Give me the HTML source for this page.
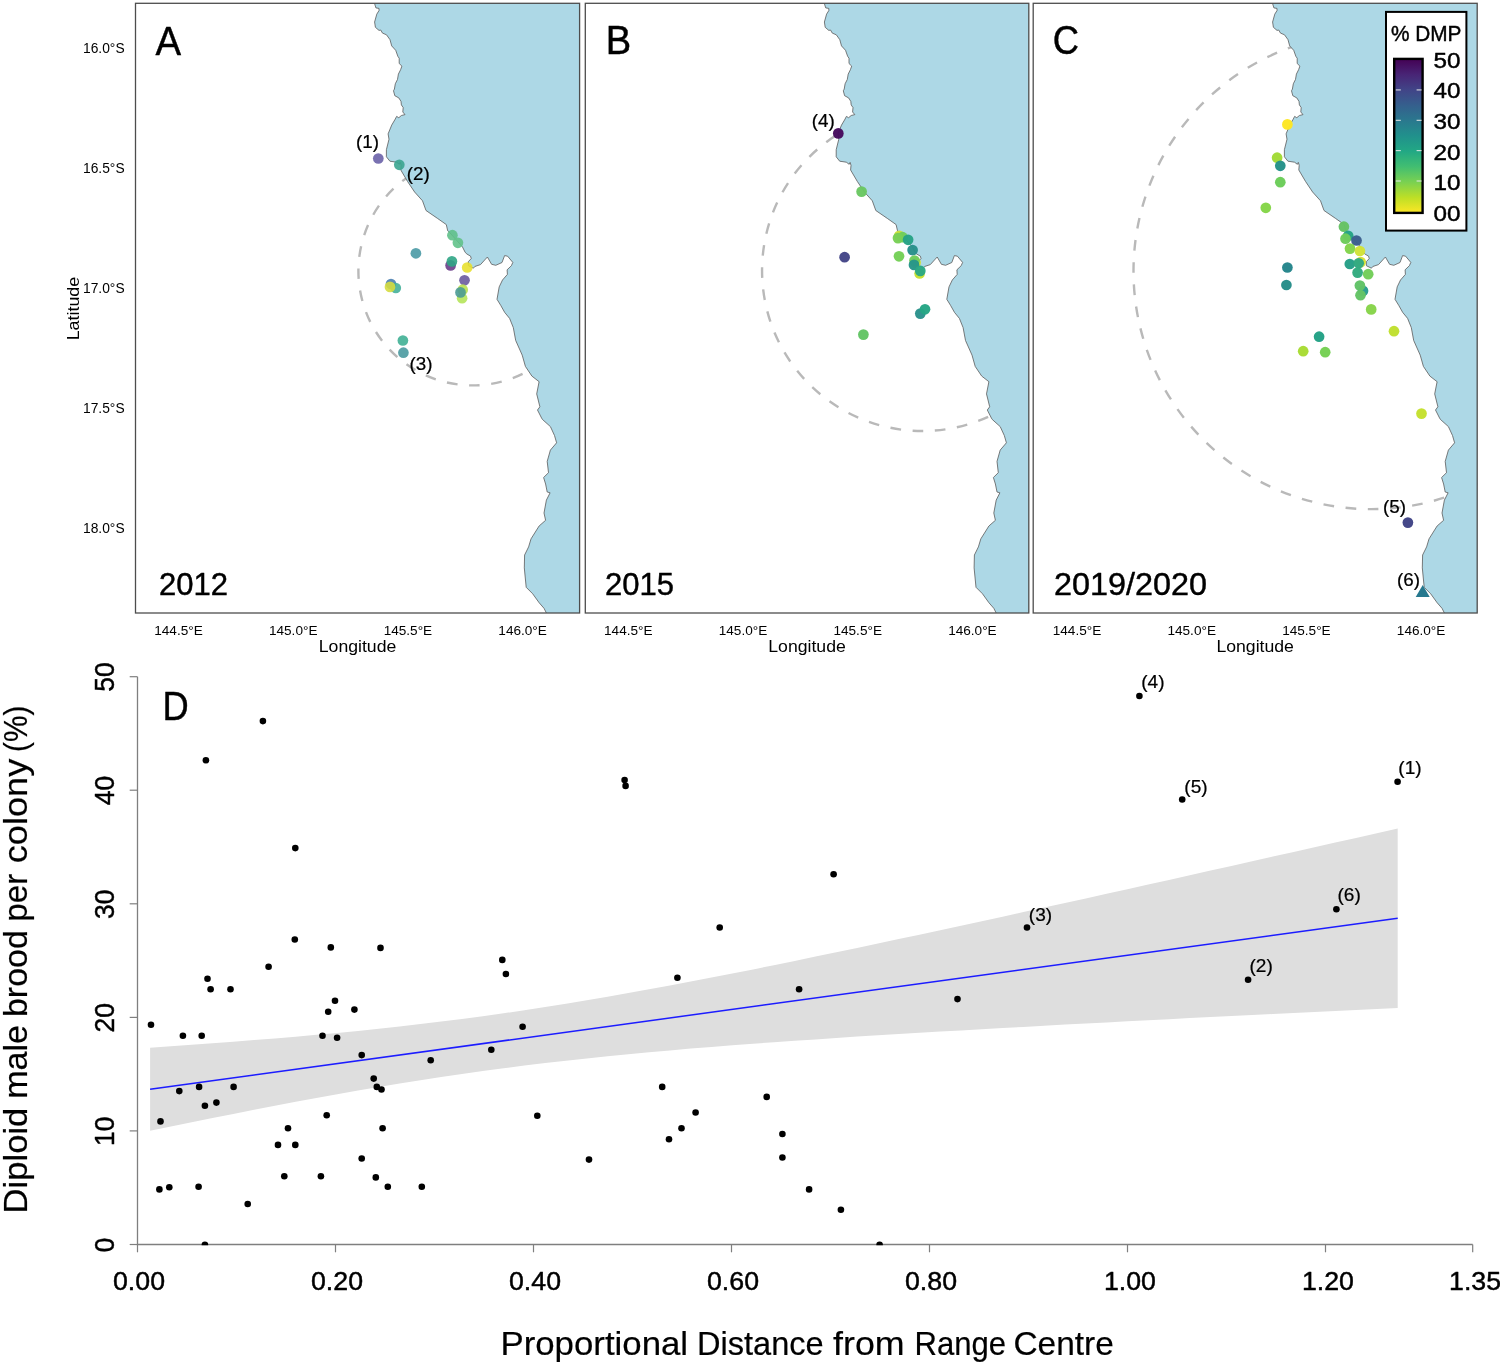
<!DOCTYPE html>
<html><head><meta charset="utf-8"><title>Figure</title>
<style>html,body{margin:0;padding:0;background:#fff}body{width:1500px;height:1362px;overflow:hidden;font-family:"Liberation Sans",sans-serif}svg{display:block;will-change:transform}text{font-family:"Liberation Sans",sans-serif;fill:#000}text.b{stroke:#000;stroke-width:0.45px;stroke-linejoin:round}text.s{stroke:#000;stroke-width:0.22px}text.t{stroke:#000;stroke-width:0.2px}</style></head><body>
<svg width="1500" height="1362" viewBox="0 0 1500 1362">
<defs>
<linearGradient id="vir" x1="0" y1="0" x2="0" y2="1">
<stop offset="0%" stop-color="#440154"/>
<stop offset="10%" stop-color="#482475"/>
<stop offset="20%" stop-color="#414487"/>
<stop offset="30%" stop-color="#355f8d"/>
<stop offset="40%" stop-color="#2a788e"/>
<stop offset="50%" stop-color="#21918c"/>
<stop offset="60%" stop-color="#22a884"/>
<stop offset="70%" stop-color="#42be71"/>
<stop offset="80%" stop-color="#7ad151"/>
<stop offset="90%" stop-color="#bddf26"/>
<stop offset="100%" stop-color="#fde725"/>
</linearGradient>
<clipPath id="cp0"><rect x="135.5" y="3.3" width="444.1" height="609.7"/></clipPath>
<clipPath id="cp1"><rect x="585.3" y="3.3" width="443.5" height="609.7"/></clipPath>
<clipPath id="cp2"><rect x="1033.2" y="3.3" width="444.0" height="609.7"/></clipPath>
</defs>
<rect width="1500" height="1362" fill="#fff"/>
<g clip-path="url(#cp0)">
<path d="M587.0,271.1 A114.3,114.3 0 1 1 358.4,271.1 A114.3,114.3 0 1 1 587.0,271.1" fill="none" stroke="#b9b9b9" stroke-width="2.4" stroke-dasharray="10.7 11.6" stroke-dashoffset="6.05"/>
<path d="M374.5,3.3 L375.9,7.9 L379.0,8.4 L379.0,10.6 L376.8,14.1 L374.6,22.0 L375.4,27.3 L379.0,30.4 L380.7,30.0 L382.5,33.1 L386.5,34.8 L390.0,39.7 L391.7,45.9 L395.7,50.3 L397.9,56.4 L399.2,58.2 L399.2,63.5 L401.9,66.1 L400.6,69.7 L398.4,74.1 L397.5,79.4 L395.3,83.8 L394.4,89.1 L393.5,90.8 L394.8,95.7 L398.8,97.9 L401.0,101.4 L401.4,104.9 L403.2,107.6 L402.8,112.0 L405.0,114.6 L401.4,115.5 L398.8,117.7 L396.6,116.4 L395.3,119.0 L391.7,125.1 L388.1,133.9 L389.0,139.2 L386.4,149.7 L386.4,156.8 L389.9,161.2 L396.5,162.2 L399.4,164.3 L400.3,162.4 L401.2,165.3 L400.8,170.0 L407.5,181.4 L414.6,192.0 L422.5,200.8 L426.0,210.5 L437.5,218.4 L446.3,224.6 L447.7,230.8 L448.7,231.5 L462.4,246.8 L465.2,252.4 L466.9,254.0 L470.6,256.2 L471.2,258.6 L468.3,261.7 L468.4,265.7 L473.4,268.2 L474.8,266.5 L480.5,264.6 L487.4,257.0 L491.6,264.3 L495.8,265.3 L502.0,262.5 L504.6,255.6 L507.6,256.2 L512.8,262.4 L511.4,265.7 L507.1,269.8 L507.4,274.4 L502.5,280.0 L499.2,286.9 L497.0,299.3 L500.7,305.3 L504.7,312.4 L509.6,318.4 L513.3,327.6 L515.7,340.5 L522.2,355.1 L525.4,366.4 L531.9,376.1 L539.1,381.7 L536.7,393.9 L539.9,406.8 L537.5,410.0 L541.6,418.1 L542.4,419.4 L550.4,426.6 L554.5,435.5 L556.6,442.8 L550.4,450.1 L547.2,461.4 L548.5,472.7 L543.6,477.5 L545.6,484.0 L547.2,492.0 L550.1,492.8 L546.4,500.1 L544.0,513.0 L545.6,520.3 L539.1,526.0 L531.0,538.9 L528.6,546.9 L524.6,555.0 L524.3,567.9 L526.2,587.3 L532.7,593.8 L539.1,602.7 L544.0,608.3 L546.4,613.0 L579.5,613 L579.5,3.3 Z" transform="translate(0,0)" fill="#add8e6"/>
<path d="M374.5,3.3 L375.9,7.9 L379.0,8.4 L379.0,10.6 L376.8,14.1 L374.6,22.0 L375.4,27.3 L379.0,30.4 L380.7,30.0 L382.5,33.1 L386.5,34.8 L390.0,39.7 L391.7,45.9 L395.7,50.3 L397.9,56.4 L399.2,58.2 L399.2,63.5 L401.9,66.1 L400.6,69.7 L398.4,74.1 L397.5,79.4 L395.3,83.8 L394.4,89.1 L393.5,90.8 L394.8,95.7 L398.8,97.9 L401.0,101.4 L401.4,104.9 L403.2,107.6 L402.8,112.0 L405.0,114.6 L401.4,115.5 L398.8,117.7 L396.6,116.4 L395.3,119.0 L391.7,125.1 L388.1,133.9 L389.0,139.2 L386.4,149.7 L386.4,156.8 L389.9,161.2 L396.5,162.2 L399.4,164.3 L400.3,162.4 L401.2,165.3 L400.8,170.0 L407.5,181.4 L414.6,192.0 L422.5,200.8 L426.0,210.5 L437.5,218.4 L446.3,224.6 L447.7,230.8 L448.7,231.5 L462.4,246.8 L465.2,252.4 L466.9,254.0 L470.6,256.2 L471.2,258.6 L468.3,261.7 L468.4,265.7 L473.4,268.2 L474.8,266.5 L480.5,264.6 L487.4,257.0 L491.6,264.3 L495.8,265.3 L502.0,262.5 L504.6,255.6 L507.6,256.2 L512.8,262.4 L511.4,265.7 L507.1,269.8 L507.4,274.4 L502.5,280.0 L499.2,286.9 L497.0,299.3 L500.7,305.3 L504.7,312.4 L509.6,318.4 L513.3,327.6 L515.7,340.5 L522.2,355.1 L525.4,366.4 L531.9,376.1 L539.1,381.7 L536.7,393.9 L539.9,406.8 L537.5,410.0 L541.6,418.1 L542.4,419.4 L550.4,426.6 L554.5,435.5 L556.6,442.8 L550.4,450.1 L547.2,461.4 L548.5,472.7 L543.6,477.5 L545.6,484.0 L547.2,492.0 L550.1,492.8 L546.4,500.1 L544.0,513.0 L545.6,520.3 L539.1,526.0 L531.0,538.9 L528.6,546.9 L524.6,555.0 L524.3,567.9 L526.2,587.3 L532.7,593.8 L539.1,602.7 L544.0,608.3 L546.4,613.0" transform="translate(0,0)" fill="none" stroke="#5a5a5a" stroke-width="0.8"/>
</g>
<rect x="135.5" y="3.3" width="444.1" height="609.7" fill="none" stroke="#4d4d4d" stroke-width="1.3"/>
<g clip-path="url(#cp1)">
<path d="M1082.8500000000001,270.6 A160.4,160.4 0 1 1 762.0500000000001,270.6 A160.4,160.4 0 1 1 1082.8500000000001,270.6" fill="none" stroke="#b9b9b9" stroke-width="2.4" stroke-dasharray="10.7 11.6" stroke-dashoffset="16.55"/>
<path d="M374.5,3.3 L375.9,7.9 L379.0,8.4 L379.0,10.6 L376.8,14.1 L374.6,22.0 L375.4,27.3 L379.0,30.4 L380.7,30.0 L382.5,33.1 L386.5,34.8 L390.0,39.7 L391.7,45.9 L395.7,50.3 L397.9,56.4 L399.2,58.2 L399.2,63.5 L401.9,66.1 L400.6,69.7 L398.4,74.1 L397.5,79.4 L395.3,83.8 L394.4,89.1 L393.5,90.8 L394.8,95.7 L398.8,97.9 L401.0,101.4 L401.4,104.9 L403.2,107.6 L402.8,112.0 L405.0,114.6 L401.4,115.5 L398.8,117.7 L396.6,116.4 L395.3,119.0 L391.7,125.1 L388.1,133.9 L389.0,139.2 L386.4,149.7 L386.4,156.8 L389.9,161.2 L396.5,162.2 L399.4,164.3 L400.3,162.4 L401.2,165.3 L400.8,170.0 L407.5,181.4 L414.6,192.0 L422.5,200.8 L426.0,210.5 L437.5,218.4 L446.3,224.6 L447.7,230.8 L448.7,231.5 L462.4,246.8 L465.2,252.4 L466.9,254.0 L470.6,256.2 L471.2,258.6 L468.3,261.7 L468.4,265.7 L473.4,268.2 L474.8,266.5 L480.5,264.6 L487.4,257.0 L491.6,264.3 L495.8,265.3 L502.0,262.5 L504.6,255.6 L507.6,256.2 L512.8,262.4 L511.4,265.7 L507.1,269.8 L507.4,274.4 L502.5,280.0 L499.2,286.9 L497.0,299.3 L500.7,305.3 L504.7,312.4 L509.6,318.4 L513.3,327.6 L515.7,340.5 L522.2,355.1 L525.4,366.4 L531.9,376.1 L539.1,381.7 L536.7,393.9 L539.9,406.8 L537.5,410.0 L541.6,418.1 L542.4,419.4 L550.4,426.6 L554.5,435.5 L556.6,442.8 L550.4,450.1 L547.2,461.4 L548.5,472.7 L543.6,477.5 L545.6,484.0 L547.2,492.0 L550.1,492.8 L546.4,500.1 L544.0,513.0 L545.6,520.3 L539.1,526.0 L531.0,538.9 L528.6,546.9 L524.6,555.0 L524.3,567.9 L526.2,587.3 L532.7,593.8 L539.1,602.7 L544.0,608.3 L546.4,613.0 L579.5,613 L579.5,3.3 Z" transform="translate(449.8,0)" fill="#add8e6"/>
<path d="M374.5,3.3 L375.9,7.9 L379.0,8.4 L379.0,10.6 L376.8,14.1 L374.6,22.0 L375.4,27.3 L379.0,30.4 L380.7,30.0 L382.5,33.1 L386.5,34.8 L390.0,39.7 L391.7,45.9 L395.7,50.3 L397.9,56.4 L399.2,58.2 L399.2,63.5 L401.9,66.1 L400.6,69.7 L398.4,74.1 L397.5,79.4 L395.3,83.8 L394.4,89.1 L393.5,90.8 L394.8,95.7 L398.8,97.9 L401.0,101.4 L401.4,104.9 L403.2,107.6 L402.8,112.0 L405.0,114.6 L401.4,115.5 L398.8,117.7 L396.6,116.4 L395.3,119.0 L391.7,125.1 L388.1,133.9 L389.0,139.2 L386.4,149.7 L386.4,156.8 L389.9,161.2 L396.5,162.2 L399.4,164.3 L400.3,162.4 L401.2,165.3 L400.8,170.0 L407.5,181.4 L414.6,192.0 L422.5,200.8 L426.0,210.5 L437.5,218.4 L446.3,224.6 L447.7,230.8 L448.7,231.5 L462.4,246.8 L465.2,252.4 L466.9,254.0 L470.6,256.2 L471.2,258.6 L468.3,261.7 L468.4,265.7 L473.4,268.2 L474.8,266.5 L480.5,264.6 L487.4,257.0 L491.6,264.3 L495.8,265.3 L502.0,262.5 L504.6,255.6 L507.6,256.2 L512.8,262.4 L511.4,265.7 L507.1,269.8 L507.4,274.4 L502.5,280.0 L499.2,286.9 L497.0,299.3 L500.7,305.3 L504.7,312.4 L509.6,318.4 L513.3,327.6 L515.7,340.5 L522.2,355.1 L525.4,366.4 L531.9,376.1 L539.1,381.7 L536.7,393.9 L539.9,406.8 L537.5,410.0 L541.6,418.1 L542.4,419.4 L550.4,426.6 L554.5,435.5 L556.6,442.8 L550.4,450.1 L547.2,461.4 L548.5,472.7 L543.6,477.5 L545.6,484.0 L547.2,492.0 L550.1,492.8 L546.4,500.1 L544.0,513.0 L545.6,520.3 L539.1,526.0 L531.0,538.9 L528.6,546.9 L524.6,555.0 L524.3,567.9 L526.2,587.3 L532.7,593.8 L539.1,602.7 L544.0,608.3 L546.4,613.0" transform="translate(449.8,0)" fill="none" stroke="#5a5a5a" stroke-width="0.8"/>
</g>
<rect x="585.3" y="3.3" width="443.5" height="609.7" fill="none" stroke="#4d4d4d" stroke-width="1.3"/>
<g clip-path="url(#cp2)">
<path d="M1609.1,271.2 A237.8,237.8 0 1 1 1133.5,271.2 A237.8,237.8 0 1 1 1609.1,271.2" fill="none" stroke="#b9b9b9" stroke-width="2.4" stroke-dasharray="10.7 11.6" stroke-dashoffset="12.72"/>
<path d="M374.5,3.3 L375.9,7.9 L379.0,8.4 L379.0,10.6 L376.8,14.1 L374.6,22.0 L375.4,27.3 L379.0,30.4 L380.7,30.0 L382.5,33.1 L386.5,34.8 L390.0,39.7 L391.7,45.9 L395.7,50.3 L397.9,56.4 L399.2,58.2 L399.2,63.5 L401.9,66.1 L400.6,69.7 L398.4,74.1 L397.5,79.4 L395.3,83.8 L394.4,89.1 L393.5,90.8 L394.8,95.7 L398.8,97.9 L401.0,101.4 L401.4,104.9 L403.2,107.6 L402.8,112.0 L405.0,114.6 L401.4,115.5 L398.8,117.7 L396.6,116.4 L395.3,119.0 L391.7,125.1 L388.1,133.9 L389.0,139.2 L386.4,149.7 L386.4,156.8 L389.9,161.2 L396.5,162.2 L399.4,164.3 L400.3,162.4 L401.2,165.3 L400.8,170.0 L407.5,181.4 L414.6,192.0 L422.5,200.8 L426.0,210.5 L437.5,218.4 L446.3,224.6 L447.7,230.8 L448.7,231.5 L462.4,246.8 L465.2,252.4 L466.9,254.0 L470.6,256.2 L471.2,258.6 L468.3,261.7 L468.4,265.7 L473.4,268.2 L474.8,266.5 L480.5,264.6 L487.4,257.0 L491.6,264.3 L495.8,265.3 L502.0,262.5 L504.6,255.6 L507.6,256.2 L512.8,262.4 L511.4,265.7 L507.1,269.8 L507.4,274.4 L502.5,280.0 L499.2,286.9 L497.0,299.3 L500.7,305.3 L504.7,312.4 L509.6,318.4 L513.3,327.6 L515.7,340.5 L522.2,355.1 L525.4,366.4 L531.9,376.1 L539.1,381.7 L536.7,393.9 L539.9,406.8 L537.5,410.0 L541.6,418.1 L542.4,419.4 L550.4,426.6 L554.5,435.5 L556.6,442.8 L550.4,450.1 L547.2,461.4 L548.5,472.7 L543.6,477.5 L545.6,484.0 L547.2,492.0 L550.1,492.8 L546.4,500.1 L544.0,513.0 L545.6,520.3 L539.1,526.0 L531.0,538.9 L528.6,546.9 L524.6,555.0 L524.3,567.9 L526.2,587.3 L532.7,593.8 L539.1,602.7 L544.0,608.3 L546.4,613.0 L579.5,613 L579.5,3.3 Z" transform="translate(898.0,0)" fill="#add8e6"/>
<path d="M374.5,3.3 L375.9,7.9 L379.0,8.4 L379.0,10.6 L376.8,14.1 L374.6,22.0 L375.4,27.3 L379.0,30.4 L380.7,30.0 L382.5,33.1 L386.5,34.8 L390.0,39.7 L391.7,45.9 L395.7,50.3 L397.9,56.4 L399.2,58.2 L399.2,63.5 L401.9,66.1 L400.6,69.7 L398.4,74.1 L397.5,79.4 L395.3,83.8 L394.4,89.1 L393.5,90.8 L394.8,95.7 L398.8,97.9 L401.0,101.4 L401.4,104.9 L403.2,107.6 L402.8,112.0 L405.0,114.6 L401.4,115.5 L398.8,117.7 L396.6,116.4 L395.3,119.0 L391.7,125.1 L388.1,133.9 L389.0,139.2 L386.4,149.7 L386.4,156.8 L389.9,161.2 L396.5,162.2 L399.4,164.3 L400.3,162.4 L401.2,165.3 L400.8,170.0 L407.5,181.4 L414.6,192.0 L422.5,200.8 L426.0,210.5 L437.5,218.4 L446.3,224.6 L447.7,230.8 L448.7,231.5 L462.4,246.8 L465.2,252.4 L466.9,254.0 L470.6,256.2 L471.2,258.6 L468.3,261.7 L468.4,265.7 L473.4,268.2 L474.8,266.5 L480.5,264.6 L487.4,257.0 L491.6,264.3 L495.8,265.3 L502.0,262.5 L504.6,255.6 L507.6,256.2 L512.8,262.4 L511.4,265.7 L507.1,269.8 L507.4,274.4 L502.5,280.0 L499.2,286.9 L497.0,299.3 L500.7,305.3 L504.7,312.4 L509.6,318.4 L513.3,327.6 L515.7,340.5 L522.2,355.1 L525.4,366.4 L531.9,376.1 L539.1,381.7 L536.7,393.9 L539.9,406.8 L537.5,410.0 L541.6,418.1 L542.4,419.4 L550.4,426.6 L554.5,435.5 L556.6,442.8 L550.4,450.1 L547.2,461.4 L548.5,472.7 L543.6,477.5 L545.6,484.0 L547.2,492.0 L550.1,492.8 L546.4,500.1 L544.0,513.0 L545.6,520.3 L539.1,526.0 L531.0,538.9 L528.6,546.9 L524.6,555.0 L524.3,567.9 L526.2,587.3 L532.7,593.8 L539.1,602.7 L544.0,608.3 L546.4,613.0" transform="translate(898.0,0)" fill="none" stroke="#5a5a5a" stroke-width="0.8"/>
</g>
<rect x="1033.2" y="3.3" width="444.0" height="609.7" fill="none" stroke="#4d4d4d" stroke-width="1.3"/>
<circle cx="415.9" cy="253.3" r="5.35" fill="#4a9aa5" fill-opacity="0.9"/>
<circle cx="452.4" cy="235.2" r="5.35" fill="#5fc08a" fill-opacity="0.9"/>
<circle cx="457.9" cy="242.8" r="5.35" fill="#62c28a" fill-opacity="0.9"/>
<circle cx="450.6" cy="265.4" r="5.35" fill="#6a3d8a" fill-opacity="0.9"/>
<circle cx="451.9" cy="261.4" r="5.35" fill="#2fa585" fill-opacity="0.9"/>
<circle cx="467.2" cy="267.5" r="5.35" fill="#e8e030" fill-opacity="0.9"/>
<circle cx="464.5" cy="280.3" r="5.35" fill="#6a5a9e" fill-opacity="0.9"/>
<circle cx="462.7" cy="289.7" r="5.35" fill="#b8e050" fill-opacity="0.9"/>
<circle cx="462.1" cy="298.2" r="5.35" fill="#b5e45a" fill-opacity="0.9"/>
<circle cx="460.5" cy="292.4" r="5.35" fill="#4a9a95" fill-opacity="0.9"/>
<circle cx="391" cy="284" r="5.35" fill="#4a80b0" fill-opacity="0.9"/>
<circle cx="395.8" cy="288" r="5.35" fill="#45b09a" fill-opacity="0.9"/>
<circle cx="390" cy="286.9" r="5.35" fill="#d5dc40" fill-opacity="0.9"/>
<circle cx="402.9" cy="340.5" r="5.35" fill="#40b095" fill-opacity="0.9"/>
<circle cx="403.4" cy="352.7" r="5.35" fill="#4a9aa0" fill-opacity="0.9"/>
<circle cx="378.3" cy="158.5" r="5.35" fill="#6a62a8" fill-opacity="0.9"/>
<circle cx="399.3" cy="164.8" r="5.35" fill="#3aa590" fill-opacity="0.9"/>
<circle cx="838.3" cy="133.4" r="5.35" fill="#460a5d" fill-opacity="0.97"/>
<circle cx="861.6" cy="191.6" r="5.35" fill="#6ac762" fill-opacity="0.97"/>
<circle cx="899.2" cy="235.8" r="5.35" fill="#c8e038" fill-opacity="0.97"/>
<circle cx="902.6" cy="237.2" r="5.35" fill="#6fcc5c" fill-opacity="0.97"/>
<circle cx="898.0" cy="238.1" r="5.35" fill="#78d056" fill-opacity="0.97"/>
<circle cx="908.1" cy="239.8" r="5.35" fill="#26a285" fill-opacity="0.97"/>
<circle cx="912.6" cy="250.1" r="5.35" fill="#27908a" fill-opacity="0.97"/>
<circle cx="899.0" cy="256.3" r="5.35" fill="#74cf56" fill-opacity="0.97"/>
<circle cx="915.6" cy="262.6" r="5.35" fill="#d0e038" fill-opacity="0.97"/>
<circle cx="914.5" cy="260.6" r="5.35" fill="#6fcc5c" fill-opacity="0.97"/>
<circle cx="919.6" cy="273.5" r="5.35" fill="#c5e030" fill-opacity="0.97"/>
<circle cx="914.0" cy="264.9" r="5.35" fill="#279689" fill-opacity="0.97"/>
<circle cx="920.3" cy="270.9" r="5.35" fill="#2aa884" fill-opacity="0.97"/>
<circle cx="844.6" cy="257.2" r="5.35" fill="#434587" fill-opacity="0.97"/>
<circle cx="920.3" cy="313.6" r="5.35" fill="#2a918b" fill-opacity="0.97"/>
<circle cx="925.0" cy="309.3" r="5.35" fill="#25a584" fill-opacity="0.97"/>
<circle cx="863.4" cy="334.6" r="5.35" fill="#62c464" fill-opacity="0.97"/>
<circle cx="1287.4" cy="124.4" r="5.35" fill="#fde725" fill-opacity="0.98"/>
<circle cx="1277.1" cy="157.7" r="5.35" fill="#a2da37" fill-opacity="0.98"/>
<circle cx="1280.3" cy="165.8" r="5.35" fill="#26928a" fill-opacity="0.98"/>
<circle cx="1280.3" cy="182.2" r="5.35" fill="#6ccd5a" fill-opacity="0.98"/>
<circle cx="1265.8" cy="207.8" r="5.35" fill="#86d549" fill-opacity="0.98"/>
<circle cx="1343.9" cy="226.7" r="5.35" fill="#66c265" fill-opacity="0.98"/>
<circle cx="1348.2" cy="235.8" r="5.35" fill="#26a285" fill-opacity="0.98"/>
<circle cx="1345.5" cy="238.7" r="5.35" fill="#6fcc5c" fill-opacity="0.98"/>
<circle cx="1356.5" cy="240.5" r="5.35" fill="#3c5f8e" fill-opacity="0.98"/>
<circle cx="1350" cy="248.6" r="5.35" fill="#84d44c" fill-opacity="0.98"/>
<circle cx="1359.9" cy="251" r="5.35" fill="#d2e23a" fill-opacity="0.98"/>
<circle cx="1360.7" cy="262.1" r="5.35" fill="#d5e038" fill-opacity="0.98"/>
<circle cx="1349.8" cy="264" r="5.35" fill="#279f88" fill-opacity="0.98"/>
<circle cx="1358.7" cy="263.3" r="5.35" fill="#31a982" fill-opacity="0.98"/>
<circle cx="1357.6" cy="272.6" r="5.35" fill="#33ab80" fill-opacity="0.98"/>
<circle cx="1368.2" cy="274.2" r="5.35" fill="#73ce5a" fill-opacity="0.98"/>
<circle cx="1363.0" cy="290.9" r="5.35" fill="#2a9d90" fill-opacity="0.98"/>
<circle cx="1359.9" cy="285.5" r="5.35" fill="#62c368" fill-opacity="0.98"/>
<circle cx="1360.5" cy="295.2" r="5.35" fill="#64c466" fill-opacity="0.98"/>
<circle cx="1371.2" cy="309.4" r="5.35" fill="#88d44b" fill-opacity="0.98"/>
<circle cx="1287.4" cy="267.5" r="5.35" fill="#26868c" fill-opacity="0.98"/>
<circle cx="1286.4" cy="285" r="5.35" fill="#278e8a" fill-opacity="0.98"/>
<circle cx="1319.1" cy="336.7" r="5.35" fill="#24a186" fill-opacity="0.98"/>
<circle cx="1303.2" cy="351.2" r="5.35" fill="#a8db34" fill-opacity="0.98"/>
<circle cx="1325.2" cy="352.2" r="5.35" fill="#75d054" fill-opacity="0.98"/>
<circle cx="1394" cy="331.2" r="5.35" fill="#c0df30" fill-opacity="0.98"/>
<circle cx="1421.5" cy="413.6" r="5.35" fill="#c5e030" fill-opacity="0.98"/>
<circle cx="1407.9" cy="522.6" r="5.35" fill="#414487" fill-opacity="0.98"/>
<path d="M1422.7,585.0 L1429.7,596.9 L1415.7,596.9 Z" fill="#26788e"/>
<text x="124.6" y="53.2" font-size="13.8" text-anchor="end" fill="#222">16.0°S</text>
<text x="124.6" y="173.10000000000002" font-size="13.8" text-anchor="end" fill="#222">16.5°S</text>
<text x="124.6" y="293.0" font-size="13.8" text-anchor="end" fill="#222">17.0°S</text>
<text x="124.6" y="412.90000000000003" font-size="13.8" text-anchor="end" fill="#222">17.5°S</text>
<text x="124.6" y="532.8000000000001" font-size="13.8" text-anchor="end" fill="#222">18.0°S</text>
<text x="178.5" y="635.4" font-size="13.6" text-anchor="middle" fill="#222">144.5°E</text>
<text x="293.2" y="635.4" font-size="13.6" text-anchor="middle" fill="#222">145.0°E</text>
<text x="407.9" y="635.4" font-size="13.6" text-anchor="middle" fill="#222">145.5°E</text>
<text x="522.6" y="635.4" font-size="13.6" text-anchor="middle" fill="#222">146.0°E</text>
<text x="628.3" y="635.4" font-size="13.6" text-anchor="middle" fill="#222">144.5°E</text>
<text x="743.0" y="635.4" font-size="13.6" text-anchor="middle" fill="#222">145.0°E</text>
<text x="857.6999999999999" y="635.4" font-size="13.6" text-anchor="middle" fill="#222">145.5°E</text>
<text x="972.4" y="635.4" font-size="13.6" text-anchor="middle" fill="#222">146.0°E</text>
<text x="1077.0" y="635.4" font-size="13.6" text-anchor="middle" fill="#222">144.5°E</text>
<text x="1191.7" y="635.4" font-size="13.6" text-anchor="middle" fill="#222">145.0°E</text>
<text x="1306.4" y="635.4" font-size="13.6" text-anchor="middle" fill="#222">145.5°E</text>
<text x="1421.1" y="635.4" font-size="13.6" text-anchor="middle" fill="#222">146.0°E</text>
<text x="357.55" y="651.6" font-size="17" text-anchor="middle" textLength="77.5" lengthAdjust="spacingAndGlyphs" fill="#222">Longitude</text>
<text x="807.05" y="651.6" font-size="17" text-anchor="middle" textLength="77.5" lengthAdjust="spacingAndGlyphs" fill="#222">Longitude</text>
<text x="1255.2" y="651.6" font-size="17" text-anchor="middle" textLength="77.5" lengthAdjust="spacingAndGlyphs" fill="#222">Longitude</text>
<text transform="translate(79.4,308.6) rotate(-90)" font-size="17" text-anchor="middle" textLength="63.5" lengthAdjust="spacingAndGlyphs" fill="#222">Latitude</text>
<text x="155.6" y="54.6" font-size="40" text-anchor="start" textLength="25.6" lengthAdjust="spacingAndGlyphs" class="b" >A</text>
<text x="605.7" y="54.2" font-size="40" text-anchor="start" textLength="25.4" lengthAdjust="spacingAndGlyphs" class="b" >B</text>
<text x="1052.8" y="54.4" font-size="40" text-anchor="start" textLength="26.2" lengthAdjust="spacingAndGlyphs" class="b" >C</text>
<text x="159" y="595.2" font-size="32" text-anchor="start" textLength="69" lengthAdjust="spacingAndGlyphs" class="b" >2012</text>
<text x="605" y="595.2" font-size="32" text-anchor="start" textLength="69" lengthAdjust="spacingAndGlyphs" class="b" >2015</text>
<text x="1054" y="595.2" font-size="32" text-anchor="start" textLength="153" lengthAdjust="spacingAndGlyphs" class="b" >2019/2020</text>
<text x="367.6" y="148.35" font-size="18" text-anchor="middle" textLength="23" lengthAdjust="spacingAndGlyphs" class="s" >(1)</text>
<text x="418.3" y="179.55" font-size="18" text-anchor="middle" textLength="23" lengthAdjust="spacingAndGlyphs" class="s" >(2)</text>
<text x="421" y="370.25" font-size="18" text-anchor="middle" textLength="23" lengthAdjust="spacingAndGlyphs" class="s" >(3)</text>
<text x="823.3" y="126.65" font-size="18" text-anchor="middle" textLength="23" lengthAdjust="spacingAndGlyphs" class="s" >(4)</text>
<text x="1394.5" y="513.45" font-size="18" text-anchor="middle" textLength="23" lengthAdjust="spacingAndGlyphs" class="s" >(5)</text>
<text x="1408.5" y="586.15" font-size="18" text-anchor="middle" textLength="23" lengthAdjust="spacingAndGlyphs" class="s" >(6)</text>
<rect x="1386" y="11.9" width="80.4" height="218.7" fill="#fff" stroke="#000" stroke-width="2"/>
<text x="1391" y="40.9" font-size="21.5" text-anchor="start" textLength="70.5" lengthAdjust="spacingAndGlyphs" class="b" >% DMP</text>
<rect x="1394.2" y="58.9" width="28.4" height="154" fill="url(#vir)" stroke="#000" stroke-width="2.4"/>
<path d="M1395.8,89.95 h5 M1416.6,89.95 h5" stroke="#e8e8e8" stroke-width="1"/>
<path d="M1395.8,120.30000000000001 h5 M1416.6,120.30000000000001 h5" stroke="#e8e8e8" stroke-width="1"/>
<path d="M1395.8,150.65 h5 M1416.6,150.65 h5" stroke="#e8e8e8" stroke-width="1"/>
<path d="M1395.8,181.0 h5 M1416.6,181.0 h5" stroke="#e8e8e8" stroke-width="1"/>
<text x="1433.6" y="67.8" font-size="22" text-anchor="start" textLength="27" lengthAdjust="spacingAndGlyphs" class="b" >50</text>
<text x="1433.6" y="98.4" font-size="22" text-anchor="start" textLength="27" lengthAdjust="spacingAndGlyphs" class="b" >40</text>
<text x="1433.6" y="129.0" font-size="22" text-anchor="start" textLength="27" lengthAdjust="spacingAndGlyphs" class="b" >30</text>
<text x="1433.6" y="159.6" font-size="22" text-anchor="start" textLength="27" lengthAdjust="spacingAndGlyphs" class="b" >20</text>
<text x="1433.6" y="190.2" font-size="22" text-anchor="start" textLength="27" lengthAdjust="spacingAndGlyphs" class="b" >10</text>
<text x="1433.6" y="220.79999999999998" font-size="22" text-anchor="start" textLength="27" lengthAdjust="spacingAndGlyphs" class="b" >00</text>
<path d="M150.1,1047.7 L170.9,1046.3 L191.7,1044.8 L212.5,1043.3 L233.3,1041.7 L254.1,1040.1 L274.9,1038.4 L295.7,1036.7 L316.4,1034.8 L337.2,1032.9 L358.0,1030.9 L378.8,1028.7 L399.6,1026.5 L420.4,1024.1 L441.2,1021.6 L462.0,1019.0 L482.8,1016.2 L503.6,1013.3 L524.4,1010.2 L545.2,1007.1 L566.0,1003.7 L586.8,1000.3 L607.6,996.8 L628.3,993.1 L649.1,989.3 L669.9,985.5 L690.7,981.6 L711.5,977.6 L732.3,973.5 L753.1,969.4 L773.9,965.2 L794.7,960.9 L815.5,956.6 L836.3,952.3 L857.1,948.0 L877.9,943.6 L898.7,939.1 L919.5,934.7 L940.2,930.2 L961.0,925.7 L981.8,921.2 L1002.6,916.7 L1023.4,912.1 L1044.2,907.6 L1065.0,903.0 L1085.8,898.4 L1106.6,893.8 L1127.4,889.2 L1148.2,884.5 L1169.0,879.9 L1189.8,875.3 L1210.6,870.6 L1231.4,866.0 L1252.1,861.3 L1272.9,856.6 L1293.7,852.0 L1314.5,847.3 L1335.3,842.6 L1356.1,837.9 L1376.9,833.2 L1397.7,828.5 L1397.7,1007.9 L1376.9,1008.9 L1356.1,1009.9 L1335.3,1010.9 L1314.5,1011.9 L1293.7,1012.9 L1272.9,1014.0 L1252.1,1015.0 L1231.4,1016.0 L1210.6,1017.1 L1189.8,1018.1 L1169.0,1019.2 L1148.2,1020.3 L1127.4,1021.3 L1106.6,1022.4 L1085.8,1023.5 L1065.0,1024.6 L1044.2,1025.7 L1023.4,1026.9 L1002.6,1028.0 L981.8,1029.2 L961.0,1030.4 L940.2,1031.6 L919.5,1032.8 L898.7,1034.1 L877.9,1035.3 L857.1,1036.6 L836.3,1038.0 L815.5,1039.4 L794.7,1040.8 L773.9,1042.2 L753.1,1043.7 L732.3,1045.3 L711.5,1046.9 L690.7,1048.6 L669.9,1050.4 L649.1,1052.3 L628.3,1054.2 L607.6,1056.2 L586.8,1058.4 L566.0,1060.7 L545.2,1063.0 L524.4,1065.6 L503.6,1068.2 L482.8,1071.0 L462.0,1073.9 L441.2,1077.0 L420.4,1080.2 L399.6,1083.5 L378.8,1087.0 L358.0,1090.5 L337.2,1094.2 L316.4,1098.0 L295.7,1101.8 L274.9,1105.8 L254.1,1109.8 L233.3,1113.9 L212.5,1118.0 L191.7,1122.2 L170.9,1126.4 L150.1,1130.7 Z" fill="#dedede"/>
<line x1="150.1" y1="1089.2" x2="1397.7" y2="918.2" stroke="#1c1cff" stroke-width="1.5"/>
<path d="M137.5,676.65 V1244.5 H1472.7" fill="none" stroke="#7f7f7f" stroke-width="1.3"/>
<line x1="129.7" x2="137.5" y1="1244.5" y2="1244.5" stroke="#7f7f7f" stroke-width="1.2"/>
<text transform="translate(114.4,1244.9) rotate(-90)" class="b" font-size="28" text-anchor="middle" textLength="14.6" lengthAdjust="spacingAndGlyphs">0</text>
<line x1="129.7" x2="137.5" y1="1130.9" y2="1130.9" stroke="#7f7f7f" stroke-width="1.2"/>
<text transform="translate(114.4,1131.3) rotate(-90)" class="b" font-size="28" text-anchor="middle" textLength="29.4" lengthAdjust="spacingAndGlyphs">10</text>
<line x1="129.7" x2="137.5" y1="1017.4" y2="1017.4" stroke="#7f7f7f" stroke-width="1.2"/>
<text transform="translate(114.4,1017.8) rotate(-90)" class="b" font-size="28" text-anchor="middle" textLength="29.4" lengthAdjust="spacingAndGlyphs">20</text>
<line x1="129.7" x2="137.5" y1="903.8" y2="903.8" stroke="#7f7f7f" stroke-width="1.2"/>
<text transform="translate(114.4,904.2) rotate(-90)" class="b" font-size="28" text-anchor="middle" textLength="29.4" lengthAdjust="spacingAndGlyphs">30</text>
<line x1="129.7" x2="137.5" y1="790.2" y2="790.2" stroke="#7f7f7f" stroke-width="1.2"/>
<text transform="translate(114.4,790.6) rotate(-90)" class="b" font-size="28" text-anchor="middle" textLength="29.4" lengthAdjust="spacingAndGlyphs">40</text>
<line x1="129.7" x2="137.5" y1="676.7" y2="676.7" stroke="#7f7f7f" stroke-width="1.2"/>
<text transform="translate(114.4,677.1) rotate(-90)" class="b" font-size="28" text-anchor="middle" textLength="29.4" lengthAdjust="spacingAndGlyphs">50</text>
<line x1="137.5" x2="137.5" y1="1244.5" y2="1252.3" stroke="#7f7f7f" stroke-width="1.2"/>
<text x="139.0" y="1290.2" font-size="25" text-anchor="middle" textLength="52" lengthAdjust="spacingAndGlyphs" class="b" >0.00</text>
<line x1="335.5" x2="335.5" y1="1244.5" y2="1252.3" stroke="#7f7f7f" stroke-width="1.2"/>
<text x="337.0" y="1290.2" font-size="25" text-anchor="middle" textLength="52" lengthAdjust="spacingAndGlyphs" class="b" >0.20</text>
<line x1="533.5" x2="533.5" y1="1244.5" y2="1252.3" stroke="#7f7f7f" stroke-width="1.2"/>
<text x="535.0" y="1290.2" font-size="25" text-anchor="middle" textLength="52" lengthAdjust="spacingAndGlyphs" class="b" >0.40</text>
<line x1="731.5" x2="731.5" y1="1244.5" y2="1252.3" stroke="#7f7f7f" stroke-width="1.2"/>
<text x="733.0" y="1290.2" font-size="25" text-anchor="middle" textLength="52" lengthAdjust="spacingAndGlyphs" class="b" >0.60</text>
<line x1="929.5" x2="929.5" y1="1244.5" y2="1252.3" stroke="#7f7f7f" stroke-width="1.2"/>
<text x="931.0" y="1290.2" font-size="25" text-anchor="middle" textLength="52" lengthAdjust="spacingAndGlyphs" class="b" >0.80</text>
<line x1="1127.5" x2="1127.5" y1="1244.5" y2="1252.3" stroke="#7f7f7f" stroke-width="1.2"/>
<text x="1129.9" y="1290.2" font-size="25" text-anchor="middle" textLength="52" lengthAdjust="spacingAndGlyphs" class="b" >1.00</text>
<line x1="1325.5" x2="1325.5" y1="1244.5" y2="1252.3" stroke="#7f7f7f" stroke-width="1.2"/>
<text x="1327.9" y="1290.2" font-size="25" text-anchor="middle" textLength="52" lengthAdjust="spacingAndGlyphs" class="b" >1.20</text>
<line x1="1472.7" x2="1472.7" y1="1244.5" y2="1252.3" stroke="#7f7f7f" stroke-width="1.2"/>
<text x="1475.1" y="1290.2" font-size="25" text-anchor="middle" textLength="52" lengthAdjust="spacingAndGlyphs" class="b" >1.35</text>
<text x="500.48" y="1355.4" font-size="33.5" text-anchor="start" textLength="187.61" lengthAdjust="spacingAndGlyphs" class="t" >Proportional</text>
<text x="696.95" y="1355.4" font-size="33.5" text-anchor="start" textLength="126.77" lengthAdjust="spacingAndGlyphs" class="t" >Distance</text>
<text x="833.1" y="1355.4" font-size="33.5" text-anchor="start" textLength="71.55" lengthAdjust="spacingAndGlyphs" class="t" >from</text>
<text x="914.47" y="1355.4" font-size="33.5" text-anchor="start" textLength="91.59" lengthAdjust="spacingAndGlyphs" class="t" >Range</text>
<text x="1013.43" y="1355.4" font-size="33.5" text-anchor="start" textLength="100.42" lengthAdjust="spacingAndGlyphs" class="t" >Centre</text>
<text transform="translate(26.6,1213.4) rotate(-90)" class="t" font-size="33.5" textLength="105.74" lengthAdjust="spacingAndGlyphs">Diploid</text>
<text transform="translate(26.6,1098.83) rotate(-90)" class="t" font-size="33.5" textLength="73.91" lengthAdjust="spacingAndGlyphs">male</text>
<text transform="translate(26.6,1017.02) rotate(-90)" class="t" font-size="33.5" textLength="86.83" lengthAdjust="spacingAndGlyphs">brood</text>
<text transform="translate(26.6,921.78) rotate(-90)" class="t" font-size="33.5" textLength="48.04" lengthAdjust="spacingAndGlyphs">per</text>
<text transform="translate(26.6,863.23) rotate(-90)" class="t" font-size="33.5" textLength="104.53" lengthAdjust="spacingAndGlyphs">colony</text>
<text transform="translate(26.6,751.9) rotate(-90)" class="t" font-size="33.5" textLength="46.45" lengthAdjust="spacingAndGlyphs">(&#37;)</text>
<text x="162.6" y="719.7" font-size="40" text-anchor="start" textLength="26.2" lengthAdjust="spacingAndGlyphs" class="b" >D</text>
<clipPath id="cpd"><rect x="130" y="660" width="1360" height="585.2"/></clipPath>
<g clip-path="url(#cpd)">
<circle cx="151.0" cy="1024.7" r="3.3" fill="#000"/>
<circle cx="262.9" cy="721.1" r="3.3" fill="#000"/>
<circle cx="205.9" cy="760.3" r="3.3" fill="#000"/>
<circle cx="295.3" cy="848.1" r="3.3" fill="#000"/>
<circle cx="294.8" cy="939.5" r="3.3" fill="#000"/>
<circle cx="268.6" cy="966.7" r="3.3" fill="#000"/>
<circle cx="207.5" cy="978.7" r="3.3" fill="#000"/>
<circle cx="210.6" cy="989.2" r="3.3" fill="#000"/>
<circle cx="230.5" cy="989.2" r="3.3" fill="#000"/>
<circle cx="182.9" cy="1035.7" r="3.3" fill="#000"/>
<circle cx="201.7" cy="1035.7" r="3.3" fill="#000"/>
<circle cx="179.3" cy="1091.1" r="3.3" fill="#000"/>
<circle cx="199.1" cy="1086.9" r="3.3" fill="#000"/>
<circle cx="233.6" cy="1086.9" r="3.3" fill="#000"/>
<circle cx="204.9" cy="1105.7" r="3.3" fill="#000"/>
<circle cx="216.4" cy="1102.6" r="3.3" fill="#000"/>
<circle cx="160.5" cy="1121.4" r="3.3" fill="#000"/>
<circle cx="159.4" cy="1189.4" r="3.3" fill="#000"/>
<circle cx="169.3" cy="1187.3" r="3.3" fill="#000"/>
<circle cx="198.6" cy="1186.8" r="3.3" fill="#000"/>
<circle cx="204.9" cy="1244.8" r="3.3" fill="#000"/>
<circle cx="247.7" cy="1204.0" r="3.3" fill="#000"/>
<circle cx="278.0" cy="1144.9" r="3.3" fill="#000"/>
<circle cx="288.0" cy="1128.2" r="3.3" fill="#000"/>
<circle cx="295.3" cy="1144.9" r="3.3" fill="#000"/>
<circle cx="284.3" cy="1176.3" r="3.3" fill="#000"/>
<circle cx="320.9" cy="1176.3" r="3.3" fill="#000"/>
<circle cx="322.5" cy="1035.7" r="3.3" fill="#000"/>
<circle cx="337.1" cy="1037.8" r="3.3" fill="#000"/>
<circle cx="328.2" cy="1011.7" r="3.3" fill="#000"/>
<circle cx="335.0" cy="1000.7" r="3.3" fill="#000"/>
<circle cx="330.8" cy="947.4" r="3.3" fill="#000"/>
<circle cx="380.5" cy="947.9" r="3.3" fill="#000"/>
<circle cx="354.4" cy="1009.6" r="3.3" fill="#000"/>
<circle cx="361.7" cy="1055.1" r="3.3" fill="#000"/>
<circle cx="373.7" cy="1078.6" r="3.3" fill="#000"/>
<circle cx="376.8" cy="1086.9" r="3.3" fill="#000"/>
<circle cx="381.5" cy="1089.5" r="3.3" fill="#000"/>
<circle cx="326.7" cy="1115.2" r="3.3" fill="#000"/>
<circle cx="382.6" cy="1128.2" r="3.3" fill="#000"/>
<circle cx="361.7" cy="1158.5" r="3.3" fill="#000"/>
<circle cx="375.8" cy="1177.4" r="3.3" fill="#000"/>
<circle cx="387.8" cy="1186.8" r="3.3" fill="#000"/>
<circle cx="421.8" cy="1186.8" r="3.3" fill="#000"/>
<circle cx="430.7" cy="1060.3" r="3.3" fill="#000"/>
<circle cx="491.3" cy="1049.8" r="3.3" fill="#000"/>
<circle cx="502.3" cy="959.9" r="3.3" fill="#000"/>
<circle cx="505.9" cy="974.0" r="3.3" fill="#000"/>
<circle cx="522.6" cy="1026.8" r="3.3" fill="#000"/>
<circle cx="537.3" cy="1115.7" r="3.3" fill="#000"/>
<circle cx="589.0" cy="1159.6" r="3.3" fill="#000"/>
<circle cx="624.6" cy="780.1" r="3.3" fill="#000"/>
<circle cx="625.6" cy="785.9" r="3.3" fill="#000"/>
<circle cx="662.2" cy="1086.9" r="3.3" fill="#000"/>
<circle cx="669.0" cy="1139.2" r="3.3" fill="#000"/>
<circle cx="681.5" cy="1128.2" r="3.3" fill="#000"/>
<circle cx="695.6" cy="1112.5" r="3.3" fill="#000"/>
<circle cx="677.4" cy="977.7" r="3.3" fill="#000"/>
<circle cx="719.7" cy="927.5" r="3.3" fill="#000"/>
<circle cx="1139.4" cy="696.0" r="3.3" fill="#000"/>
<circle cx="1182.2" cy="799.5" r="3.3" fill="#000"/>
<circle cx="1397.6" cy="781.7" r="3.3" fill="#000"/>
<circle cx="1336.4" cy="909.2" r="3.3" fill="#000"/>
<circle cx="1027.0" cy="927.5" r="3.3" fill="#000"/>
<circle cx="1248.1" cy="979.8" r="3.3" fill="#000"/>
<circle cx="833.6" cy="874.2" r="3.3" fill="#000"/>
<circle cx="799.1" cy="989.2" r="3.3" fill="#000"/>
<circle cx="957.5" cy="999.1" r="3.3" fill="#000"/>
<circle cx="766.7" cy="1096.9" r="3.3" fill="#000"/>
<circle cx="782.4" cy="1134.0" r="3.3" fill="#000"/>
<circle cx="782.4" cy="1157.5" r="3.3" fill="#000"/>
<circle cx="809.1" cy="1189.4" r="3.3" fill="#000"/>
<circle cx="840.9" cy="1209.8" r="3.3" fill="#000"/>
<circle cx="879.6" cy="1244.8" r="3.3" fill="#000"/>
</g>
<text x="1152.9" y="688.35" font-size="18" text-anchor="middle" textLength="23.3" lengthAdjust="spacingAndGlyphs" class="s" >(4)</text>
<text x="1196" y="792.9499999999999" font-size="18" text-anchor="middle" textLength="23.3" lengthAdjust="spacingAndGlyphs" class="s" >(5)</text>
<text x="1410" y="774.15" font-size="18" text-anchor="middle" textLength="23.3" lengthAdjust="spacingAndGlyphs" class="s" >(1)</text>
<text x="1349.1" y="900.65" font-size="18" text-anchor="middle" textLength="23.3" lengthAdjust="spacingAndGlyphs" class="s" >(6)</text>
<text x="1040.5" y="921.15" font-size="18" text-anchor="middle" textLength="23.3" lengthAdjust="spacingAndGlyphs" class="s" >(3)</text>
<text x="1261.1" y="971.65" font-size="18" text-anchor="middle" textLength="23.3" lengthAdjust="spacingAndGlyphs" class="s" >(2)</text>
</svg></body></html>
